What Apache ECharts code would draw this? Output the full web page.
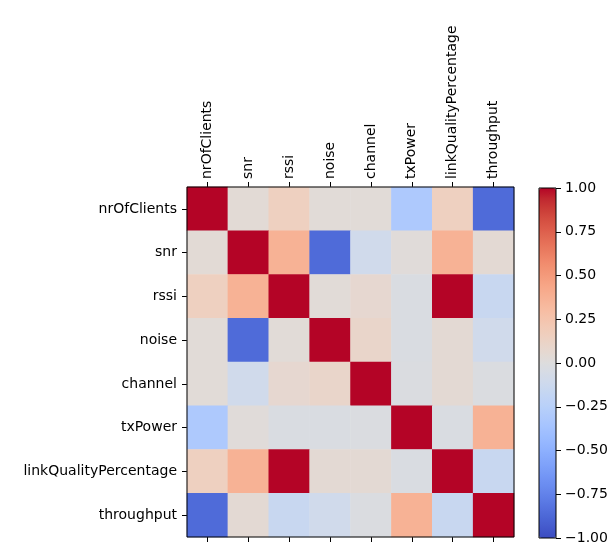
<!DOCTYPE html>
<html>
<head>
<meta charset="utf-8">
<script src="https://cdn.jsdelivr.net/npm/echarts@6/dist/echarts.min.js"></script>
<style>
  html, body { margin: 0; padding: 0; background: #fff; }
  #chart { width: 613px; height: 550px; }
</style>
</head>
<body>
<div id="chart"></div>
<script>
// variable names (same order on both axes)
var names = ['nrOfClients', 'snr', 'rssi', 'noise', 'channel', 'txPower', 'linkQualityPercentage', 'throughput'];

// correlation rows
var rowNrOfClients = [1.00, 0.04, 0.15, 0.03, 0.03, -0.31, 0.15, -0.86];
var rowSnr         = [0.04, 1.00, 0.37, -0.86, -0.10, 0.02, 0.37, 0.05];
var rowRssi        = [0.15, 0.37, 1.00, 0.03, 0.07, -0.03, 1.00, -0.15];
var rowNoise       = [0.03, -0.86, 0.03, 1.00, 0.10, -0.03, 0.05, -0.10];
var rowChannel     = [0.03, -0.10, 0.07, 0.10, 1.00, -0.02, 0.05, -0.02];
var rowTxPower     = [-0.31, 0.02, -0.03, -0.03, -0.02, 1.00, -0.03, 0.37];
var rowLinkQuality = [0.15, 0.37, 1.00, 0.05, 0.05, -0.03, 1.00, -0.15];
var rowThroughput  = [-0.86, 0.05, -0.15, -0.10, -0.02, 0.37, -0.15, 1.00];

var rows = [rowNrOfClients, rowSnr, rowRssi, rowNoise, rowChannel, rowTxPower, rowLinkQuality, rowThroughput];

// colorbar ticks
var cbarMin = -1, cbarMax = 1, cbarStep = 0.25;

// coolwarm (33 stops)
var coolwarm = [
  '#3b4cc0', '#445acc', '#4d68d7', '#5775e1', '#6282ea', '#6c8ef1', '#779af7', '#82a5fb',
  '#8db0fe', '#98b9ff', '#a3c2ff', '#aec9fd', '#b8d0f9', '#c2d5f4', '#ccd9ee', '#d5dbe6',
  '#dddddd', '#e5d8d1', '#ecd3c5', '#f1ccb9', '#f5c4ad', '#f7bba0', '#f7b194', '#f7a687',
  '#f49a7b', '#f18d6f', '#ec7f63', '#e57058', '#de604d', '#d55042', '#cb3e38', '#c0282f',
  '#b40426'
];

var cells = [];
rows.forEach(function (row, yi) {
  row.forEach(function (v, xi) {
    cells.push([xi, yi, v]);
  });
});

var font = 'DejaVu Sans';
var chart = echarts.init(document.getElementById('chart'));

chart.setOption({
  backgroundColor: '#fff',
  animation: false,
  grid: [
    { left: 187, top: 187, width: 327, height: 350, show: true, borderColor: '#000', borderWidth: 1, backgroundColor: 'transparent', z: 5 },
    { left: 539, top: 188, width: 17, height: 350, show: true, borderColor: '#000', borderWidth: 1, backgroundColor: 'transparent', z: 5 }
  ],
  xAxis: [
    {
      type: 'category', data: names, gridIndex: 0, position: 'top',
      axisLine: { show: false },
      axisTick: { show: true, alignWithLabel: true, interval: 0, length: 5, lineStyle: { color: '#000' } },
      axisLabel: { rotate: -90, interval: 0, margin: 8, color: '#000', fontFamily: font, fontSize: 14 },
      splitLine: { show: false }
    },
    {
      type: 'category', data: names, gridIndex: 0, position: 'bottom',
      axisLine: { show: false },
      axisTick: { show: true, alignWithLabel: true, interval: 0, length: 5, lineStyle: { color: '#000' } },
      axisLabel: { show: false, interval: 0 },
      splitLine: { show: false }
    },
    {
      type: 'category', data: ['c'], gridIndex: 1, show: false
    }
  ],
  yAxis: [
    {
      type: 'category', data: names, gridIndex: 0, inverse: true,
      axisLine: { show: false },
      axisTick: { show: true, alignWithLabel: true, interval: 0, length: 5, lineStyle: { color: '#000' } },
      axisLabel: { margin: 10, interval: 0, color: '#000', fontFamily: font, fontSize: 14 },
      splitLine: { show: false }
    },
    {
      type: 'value', gridIndex: 1, position: 'right',
      min: cbarMin, max: cbarMax, interval: cbarStep,
      axisLine: { show: false },
      axisTick: { show: true, length: 5, lineStyle: { color: '#000' } },
      axisLabel: {
        margin: 9, color: '#000', fontFamily: font, fontSize: 14,
        formatter: function (v) { return v.toFixed(2).replace('-', '\u2212'); }
      },
      splitLine: { show: false }
    }
  ],
  visualMap: {
    type: 'continuous',
    min: cbarMin, max: cbarMax,
    seriesIndex: 0,
    orient: 'vertical',
    left: 539, top: 188,
    itemWidth: 17, itemHeight: 350,
    padding: 0,
    calculable: false,
    realtime: false,
    showLabel: false,
    text: null,
    inRange: { color: coolwarm }
  },
  series: [
    {
      type: 'heatmap',
      xAxisIndex: 0, yAxisIndex: 0,
      data: cells,
      itemStyle: { borderWidth: 0 },
      emphasis: { disabled: true }
    }
  ]
});
</script>
</body>
</html>
